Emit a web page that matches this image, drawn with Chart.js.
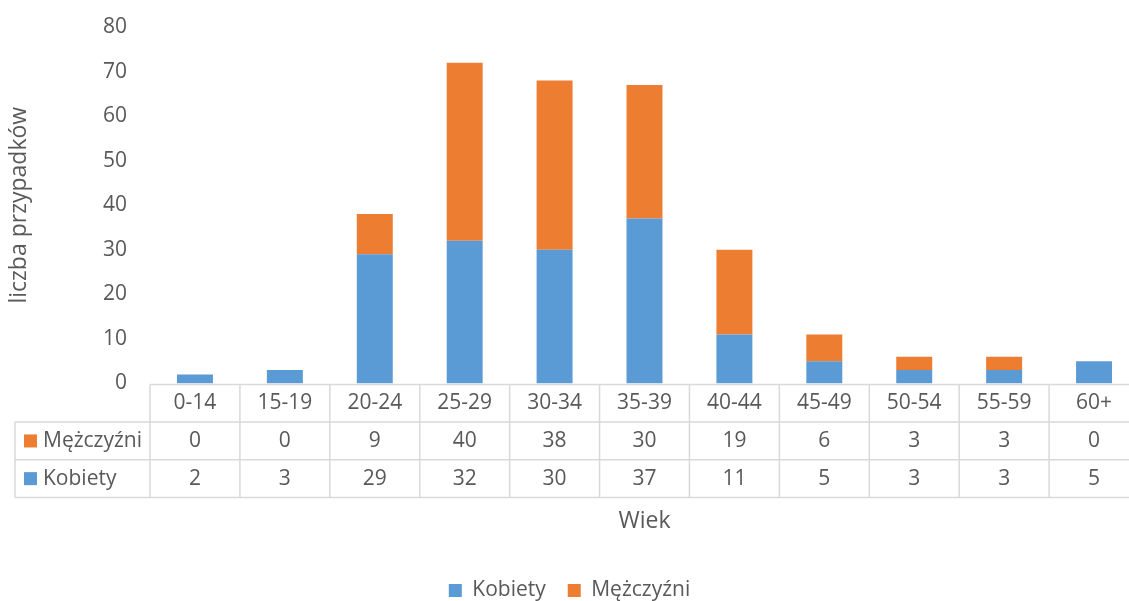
<!DOCTYPE html>
<html>
<head>
<meta charset="utf-8">
<title>Wiek - liczba przypadków</title>
<script src="https://cdn.jsdelivr.net/npm/chart.js"></script>
<style>
    html, body { margin: 0; padding: 0; background: #fff; overflow: hidden; }
    .chart-container { position: relative; width: 1140px; height: 611px; }
</style>
</head>
<body>
<div class="chart-container">
    <canvas id="ageChart"></canvas>
</div>
<script>
const ageGroups = ['0-14', '15-19', '20-24', '25-29', '30-34', '35-39', '40-44', '45-49', '50-54', '55-59', '60+'];
const kobiety = [2, 3, 29, 32, 30, 37, 11, 5, 3, 3, 5];
const mezczyzni = [0, 0, 9, 40, 38, 30, 19, 6, 3, 3, 0];
const yTicks = [0, 10, 20, 30, 40, 50, 60, 70, 80];

const textColor = '#595959';
const lineColor = '#d9d9d9';
const blue = '#5b9bd5';
const orange = '#ed7d31';
const fontFamily = '"Open Sans", "DejaVu Sans", sans-serif';

// Excel-style data table under the plot, positioned from the x scale
const dataTablePlugin = {
    id: 'dataTable',
    afterDraw: function(chart) {
        const ctx = chart.ctx;
        const xScale = chart.scales.x;
        const area = chart.chartArea;
        const colW = (area.right - area.left) / ageGroups.length;
        const top = area.bottom + 1;
        const rowH = 37.7;
        const labelLeft = 15;
        const rows = [
            { label: 'Mężczyźni', color: orange, values: mezczyzni },
            { label: 'Kobiety', color: blue, values: kobiety }
        ];

        ctx.save();
        ctx.strokeStyle = lineColor;
        ctx.lineWidth = 1.5;

        // horizontal lines
        ctx.beginPath();
        ctx.moveTo(area.left, top);
        ctx.lineTo(area.right, top);
        for (let r = 1; r <= rows.length + 1; r++) {
            ctx.moveTo(labelLeft, top + r * rowH);
            ctx.lineTo(area.right, top + r * rowH);
        }
        // vertical lines
        ctx.moveTo(labelLeft, top + rowH);
        ctx.lineTo(labelLeft, top + (rows.length + 1) * rowH);
        for (let i = 0; i <= ageGroups.length; i++) {
            const x = area.left + i * colW;
            ctx.moveTo(x, top);
            ctx.lineTo(x, top + (rows.length + 1) * rowH);
        }
        ctx.stroke();

        ctx.font = '21px ' + fontFamily;
        ctx.fillStyle = textColor;
        ctx.textBaseline = 'middle';
        ctx.textAlign = 'center';

        ageGroups.forEach(function(g, i) {
            ctx.fillText(g, xScale.getPixelForValue(i), top + rowH / 2);
        });

        rows.forEach(function(row, r) {
            const cy = top + (r + 1.5) * rowH;
            row.values.forEach(function(v, i) {
                ctx.fillStyle = textColor;
                ctx.textAlign = 'center';
                ctx.fillText(String(v), xScale.getPixelForValue(i), cy);
            });
            ctx.fillStyle = row.color;
            ctx.fillRect(labelLeft + 9, cy - 6.5, 13, 13);
            ctx.fillStyle = textColor;
            ctx.textAlign = 'left';
            ctx.fillText(row.label, labelLeft + 28, cy);
        });
        ctx.restore();
    }
};

function initializeChart() {
    const ctx = document.getElementById('ageChart');
    new Chart(ctx.getContext('2d'), {
        type: 'bar',
        data: {
            labels: ageGroups,
            datasets: [
                {
                    label: 'Kobiety',
                    data: kobiety,
                    backgroundColor: blue,
                    barPercentage: 0.4,
                    categoryPercentage: 1
                },
                {
                    label: 'Mężczyźni',
                    data: mezczyzni,
                    backgroundColor: orange,
                    barPercentage: 0.4,
                    categoryPercentage: 1
                }
            ]
        },
        options: {
            responsive: true,
            maintainAspectRatio: false,
            animation: false,
            layout: {
                padding: { top: 27, right: 1, left: 0, bottom: 0 }
            },
            font: { family: fontFamily },
            plugins: {
                tooltip: { enabled: false },
                legend: {
                    position: 'bottom',
                    labels: {
                        boxWidth: 13,
                        boxHeight: 13,
                        padding: 22,
                        color: textColor,
                        font: { size: 21, family: fontFamily }
                    }
                }
            },
            scales: {
                x: {
                    stacked: true,
                    grid: { display: false, drawTicks: false },
                    border: { display: false },
                    ticks: { display: false },
                    title: {
                        display: true,
                        text: 'Wiek',
                        color: textColor,
                        font: { size: 23, family: fontFamily },
                        padding: { top: 124, bottom: 23 }
                    }
                },
                y: {
                    stacked: true,
                    min: 0,
                    max: 80,
                    afterFit: function(scale) {
                        scale.width = 150;
                        scale.paddingTop = 0;
                        scale.paddingBottom = 0;
                    },
                    afterBuildTicks: function(scale) {
                        scale.ticks = yTicks.map(function(v) { return { value: v }; });
                    },
                    grid: { display: false, drawTicks: false },
                    border: { display: false },
                    ticks: {
                        padding: 23,
                        color: textColor,
                        font: { size: 21, family: fontFamily }
                    },
                    title: {
                        display: true,
                        text: 'liczba przypadków',
                        color: textColor,
                        font: { size: 23, family: fontFamily },
                        padding: { top: 6, bottom: 0 }
                    }
                }
            }
        },
        plugins: [dataTablePlugin]
    });
}

document.addEventListener('DOMContentLoaded', function() {
    initializeChart();
});
</script>
</body>
</html>
